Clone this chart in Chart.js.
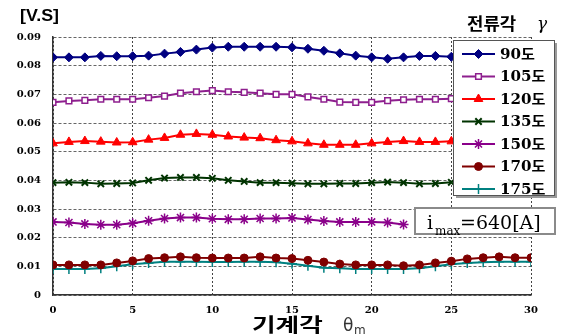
<!DOCTYPE html>
<html>
<head>
<meta charset="utf-8">
<script src="https://cdn.jsdelivr.net/npm/chart.js@4"></script>
<style>
html, body { margin: 0; padding: 0; background: #fff; overflow: hidden; }
</style>
</head>
<body>
<canvas id="fluxChart" width="563" height="336"></canvas>
<script>
// mechanical angle (deg)
const angles = [0, 1, 2, 3, 4, 5, 6, 7, 8, 9, 10, 11, 12, 13, 14, 15, 16, 17, 18, 19, 20, 21, 22, 23, 24, 25, 26, 27, 28, 29, 30];
const xTicks = [0, 5, 10, 15, 20, 25, 30];
const yTicks = [0, 0.01, 0.02, 0.03, 0.04, 0.05, 0.06, 0.07, 0.08, 0.09];
const yTickLabels = ['0', '0.01', '0.02', '0.03', '0.04', '0.05', '0.06', '0.07', '0.08', '0.09'];
const seriesNames = ['90도', '105도', '120도', '135도', '150도', '170도', '175도'];

// flux linkage [V.s] per current angle; null = hidden behind the boxes
const flux90 = [0.0829, 0.0829, 0.0829, 0.0834, 0.0833, 0.0833, 0.0835, 0.0842, 0.0848, 0.0856, 0.0863, 0.0866, 0.0866, 0.0866, 0.0866, 0.0864, 0.0859, 0.0852, 0.0843, 0.0835, 0.0829, 0.0824, 0.0829, 0.0834, 0.0834, 0.0831, null, null, null, null, null];
const flux105 = [0.0672, 0.0677, 0.0679, 0.0683, 0.0683, 0.0683, 0.0688, 0.0694, 0.0704, 0.0709, 0.0713, 0.0709, 0.0707, 0.0704, 0.0700, 0.0700, 0.0691, 0.0683, 0.0673, 0.0672, 0.0672, 0.0678, 0.0681, 0.0683, 0.0683, 0.0685, null, null, null, null, null];
const flux120 = [0.0529, 0.0534, 0.0537, 0.0535, 0.0532, 0.0533, 0.0542, 0.0548, 0.0559, 0.0562, 0.0559, 0.0553, 0.0549, 0.0547, 0.0540, 0.0536, 0.0529, 0.0524, 0.0524, 0.0524, 0.0529, 0.0534, 0.0537, 0.0534, 0.0534, 0.0536, null, null, null, null, null];
const flux135 = [0.0392, 0.0393, 0.0392, 0.0388, 0.0389, 0.0391, 0.0400, 0.0408, 0.0410, 0.0410, 0.0407, 0.0400, 0.0396, 0.0392, 0.0392, 0.0390, 0.0388, 0.0388, 0.0389, 0.0389, 0.0392, 0.0394, 0.0392, 0.0388, 0.0389, 0.0393, null, null, null, null, null];
const flux150 = [0.0255, 0.0253, 0.0248, 0.0245, 0.0245, 0.0250, 0.0259, 0.0267, 0.0270, 0.0270, 0.0266, 0.0264, 0.0264, 0.0267, 0.0267, 0.0269, 0.0263, 0.0258, 0.0255, 0.0255, 0.0255, 0.0253, 0.0246, null, null, null, null, null, null, null, null];
const flux170 = [0.0105, 0.0105, 0.0105, 0.0105, 0.0112, 0.0119, 0.0127, 0.0130, 0.0133, 0.0130, 0.0129, 0.0129, 0.0129, 0.0133, 0.0129, 0.0127, 0.0121, 0.0115, 0.0108, 0.0105, 0.0105, 0.0105, 0.0102, 0.0105, 0.0112, 0.0118, 0.0126, 0.0130, 0.0133, 0.0130, 0.0130];
const flux175 = [0.0091, 0.0091, 0.0091, 0.0093, 0.0100, 0.0107, 0.0112, 0.0116, 0.0116, 0.0116, 0.0115, 0.0115, 0.0116, 0.0116, 0.0114, 0.0109, 0.0102, 0.0095, 0.0093, 0.0091, 0.0091, 0.0091, 0.0091, 0.0093, 0.0100, 0.0107, 0.0112, 0.0114, 0.0116, 0.0116, 0.0116];

const seriesValues = [flux90, flux105, flux120, flux135, flux150, flux170, flux175];

const seriesStyles = [
  { line: '#000080', fill: '#000080', point: 'rectRot', r: 4.5, bw: 1 },
  { line: '#8e1f8e', fill: '#ffffff', point: 'rect', r: 4, bw: 1.5 },
  { line: '#ff0000', fill: '#ff0000', point: 'triangle', r: 5, bw: 1 },
  { line: '#003300', fill: '#003300', point: 'crossRot', r: 4.5, bw: 2 },
  { line: '#8a008a', fill: '#8a008a', point: 'star', r: 5, bw: 1.5 },
  { line: '#800000', fill: '#800000', point: 'circle', r: 4, bw: 1 },
  { line: '#008080', fill: '#008080', point: 'cross', r: 5, bw: 1.5 }
];

const datasets = seriesNames.map((name, i) => ({
  label: name,
  data: angles.map((a, j) => ({ x: a, y: seriesValues[i][j] })),
  borderColor: seriesStyles[i].line,
  backgroundColor: seriesStyles[i].fill,
  pointBorderColor: seriesStyles[i].line,
  pointBackgroundColor: seriesStyles[i].fill,
  pointStyle: seriesStyles[i].point,
  pointRadius: seriesStyles[i].r,
  pointBorderWidth: seriesStyles[i].bw,
  borderWidth: 2,
  tension: 0,
  spanGaps: false
}));

const tickFont = { family: 'DejaVu Serif', weight: 'bold', size: 10 };

// draw text squeezed/stretched horizontally
function wideText(ctx, text, x, y, sx) {
  ctx.save();
  ctx.translate(x, y);
  ctx.scale(sx, 1);
  ctx.fillText(text, 0, 0);
  ctx.restore();
}

const overlayPlugin = {
  id: 'overlay',
  afterDraw(chart) {
    const ctx = chart.ctx;
    ctx.save();

    // unit label
    ctx.fillStyle = '#000';
    ctx.font = 'bold 17px "Liberation Sans", Arial';
    ctx.textBaseline = 'alphabetic';
    ctx.textAlign = 'left';
    wideText(ctx, '[V.S]', 20, 21, 1.05);

    // x title
    ctx.font = 'bold 19px "Noto Sans CJK KR"';
    wideText(ctx, '기계각', 252, 332, 1.35);
    ctx.fillStyle = '#333';
    ctx.font = '17px "DejaVu Sans"';
    ctx.fillText('θ', 343, 331);
    ctx.font = '12px "DejaVu Sans"';
    ctx.fillText('m', 354, 334);

    // legend title
    ctx.fillStyle = '#000';
    ctx.font = 'bold 17px "Noto Sans CJK KR"';
    wideText(ctx, '전류각', 467, 30, 1.05);
    ctx.font = 'italic 17px "DejaVu Serif"';
    ctx.fillText('γ', 537, 29);

    // legend box with shadow
    const lx = 453, ly = 40, lw = 101, lh = 155;
    ctx.fillStyle = '#9a9a9a';
    ctx.fillRect(lx + 3, ly + 3, lw, lh);
    ctx.fillStyle = '#fff';
    ctx.fillRect(lx, ly, lw, lh);
    ctx.strokeStyle = '#555';
    ctx.lineWidth = 1;
    ctx.strokeRect(lx + 0.5, ly + 0.5, lw, lh);

    chart.data.datasets.forEach((ds, i) => {
      const y = 54 + i * 22.5;
      ctx.strokeStyle = ds.borderColor;
      ctx.lineWidth = 2;
      ctx.beginPath();
      ctx.moveTo(462, y);
      ctx.lineTo(495, y);
      ctx.stroke();
      ctx.fillStyle = ds.pointBackgroundColor;
      ctx.strokeStyle = ds.pointBorderColor;
      ctx.lineWidth = ds.pointBorderWidth;
      Chart.helpers.drawPoint(ctx, { pointStyle: ds.pointStyle, radius: ds.pointRadius, rotation: 0, borderWidth: ds.pointBorderWidth }, 478.5, y);
      ctx.fillStyle = '#000';
      ctx.font = 'bold 14px "DejaVu Serif", "Noto Sans CJK KR"';
      ctx.textBaseline = 'middle';
      wideText(ctx, ds.label, 500, y + 1, 1.08);
    });

    // current box
    const bx = 414, by = 207, bw = 142, bh = 28;
    ctx.fillStyle = '#fff';
    ctx.fillRect(bx, by, bw, bh);
    ctx.strokeStyle = '#8a8a8a';
    ctx.lineWidth = 2;
    ctx.strokeRect(bx + 1, by + 1, bw - 2, bh - 2);
    ctx.fillStyle = '#000';
    ctx.textBaseline = 'alphabetic';
    ctx.font = '19px "DejaVu Serif"';
    ctx.fillText('i', 427, 229);
    ctx.font = '12px "DejaVu Serif"';
    ctx.fillText('max', 435, 235);
    ctx.font = '19px "DejaVu Serif"';
    ctx.fillText('=640[A]', 460, 229);

    ctx.restore();
  }
};

new Chart(document.getElementById('fluxChart').getContext('2d'), {
  type: 'line',
  data: { datasets: datasets },
  options: {
    responsive: false,
    animation: false,
    layout: { padding: { top: 37, right: 32, bottom: 0, left: 0 } },
    plugins: {
      legend: { display: false },
      tooltip: { enabled: false }
    },
    scales: {
      x: {
        type: 'linear',
        min: 0,
        max: 30,
        afterBuildTicks: (scale) => { scale.ticks = xTicks.map(v => ({ value: v })); },
        afterFit: (scale) => { scale.height = 41; },
        ticks: { font: tickFont, color: '#000', padding: 9, maxRotation: 0 },
        grid: { color: '#444', lineWidth: 1, drawTicks: false },
        border: { color: '#333', width: 1.5, dash: [2, 2] }
      },
      y: {
        min: 0,
        max: 0.09,
        afterBuildTicks: (scale) => { scale.ticks = yTicks.map(v => ({ value: v })); },
        afterFit: (scale) => { scale.width = 53; },
        ticks: {
          font: tickFont,
          color: '#000',
          padding: 12,
          callback: (v, i) => yTickLabels[i]
        },
        grid: { color: '#666', lineWidth: 1, drawTicks: false },
        border: { color: '#333', width: 1.5, dash: [3, 2] }
      }
    }
  },
  plugins: [overlayPlugin]
});
</script>
</body>
</html>
